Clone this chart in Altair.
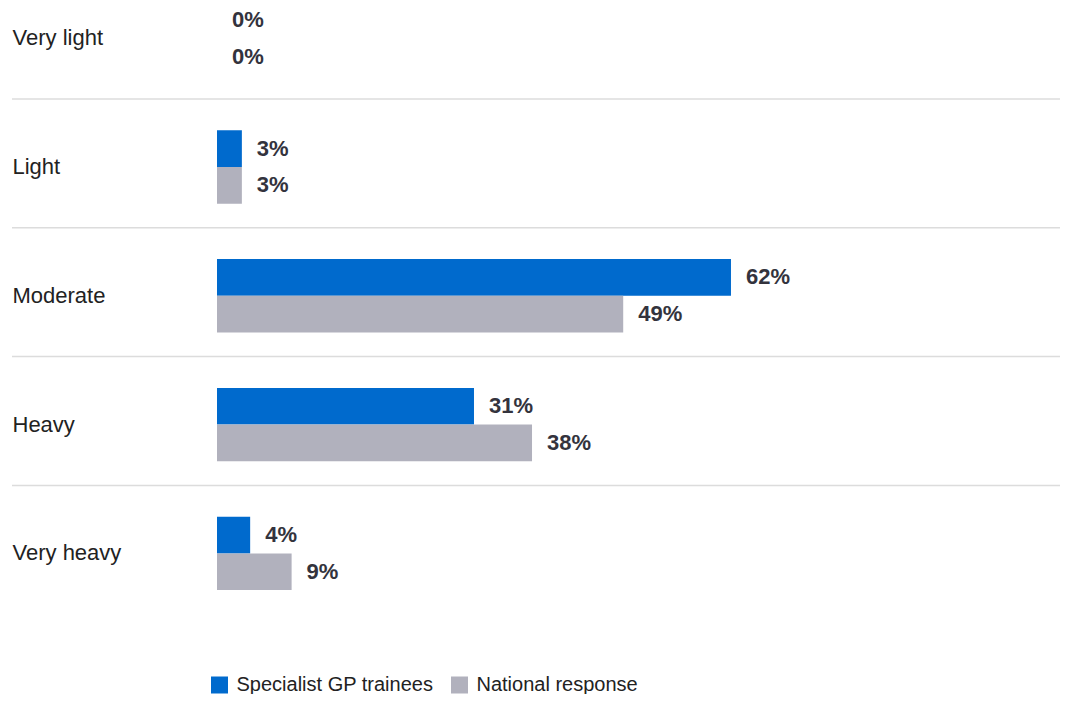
import altair as alt
import pandas as pd

categories = ["Very light", "Light", "Moderate", "Heavy", "Very heavy"]
series = ["Specialist GP trainees", "National response"]
trainees = [0, 3, 62, 31, 4]
national = [0, 3, 49, 38, 9]
colors = ["#006ACD", "#B1B1BD"]

rows = []
for c, a, b in zip(categories, trainees, national):
    rows.append({"cat": c, "series": series[0], "value": a, "label": f"{a}%"})
    rows.append({"cat": c, "series": series[1], "value": b, "label": f"{b}%"})
df = pd.DataFrame(rows)
sep_df = pd.DataFrame({"cat": categories[:-1]})

FONT = "Liberation Sans"

yscale = alt.Scale(domain=categories, range=[-6.5, 582.1], paddingInner=0.43, paddingOuter=0)
xscale = alt.Scale(domain=[0, 100])
offscale = alt.Scale(domain=series, paddingInner=0, paddingOuter=0)

y_enc = alt.Y(
    "cat:N",
    scale=yscale,
    sort=categories,
    axis=alt.Axis(
        title=None, domain=False, ticks=False, grid=False,
        labelAlign="left", labelPadding=205, labelFontSize=22,
        labelFont=FONT, labelColor="#222222", labelBaseline="middle",
    ),
)

bars = alt.Chart(df).mark_bar(cornerRadius=0).encode(
    x=alt.X("value:Q", scale=xscale, axis=None),
    y=y_enc,
    yOffset=alt.YOffset("series:N", sort=series, scale=offscale),
    color=alt.Color(
        "series:N",
        sort=series,
        scale=alt.Scale(domain=series, range=colors),
        legend=alt.Legend(
            title=None, orient="none", direction="horizontal",
            legendX=-7.5, legendY=667, symbolType="square", symbolSize=289,
            symbolStrokeWidth=0, labelFontSize=20, labelFont=FONT,
            labelColor="#222222", columnPadding=16, labelOffset=7, padding=0,
            labelLimit=0,
        ),
    ),
)

texts = alt.Chart(df).mark_text(
    align="left", baseline="middle", dx=15, fontSize=22, fontWeight="bold",
    font=FONT, color="#33333D",
).encode(
    x=alt.X("value:Q", scale=xscale, axis=None),
    y=alt.Y("cat:N", scale=yscale, sort=categories),
    yOffset=alt.YOffset("series:N", sort=series, scale=offscale),
    text="label:N",
)

seps = alt.Chart(sep_df).mark_rule(color="#DCDCDC", strokeWidth=1.5, yOffset=24.1).encode(
    y=alt.Y("cat:N", scale=yscale, sort=categories, bandPosition=1),
    x=alt.value(-205),
    x2=alt.value(843),
)

chart = alt.layer(seps, bars, texts).properties(
    width=829,
    height=686,
    padding={"left": 209, "right": 14, "top": 0, "bottom": 0},
    autosize=alt.AutoSizeParams(type="none"),
).configure_view(stroke=None)

chart.save("out.html", embed_options={"renderer": "svg", "actions": False})
